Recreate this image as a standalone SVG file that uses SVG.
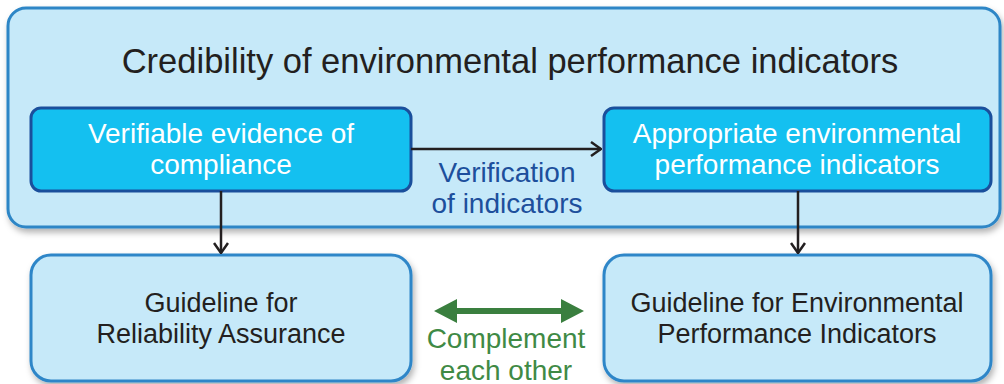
<svg xmlns="http://www.w3.org/2000/svg" width="1004" height="384" viewBox="0 0 1004 384">
  <style>
    text { font-family: "Liberation Sans", Arial, sans-serif; text-anchor: middle; }
    .container { fill: #c6e9f9; stroke: #2d86c6; stroke-width: 3; }
    .inner { fill: #14c0f0; stroke: #1a4f9c; stroke-width: 3; }
    .guide { fill: #c6e9f9; stroke: #2e86c8; stroke-width: 3; }
    .title { font-size: 34.5px; fill: #231f20; }
    .white { font-size: 28px; fill: #ffffff; }
    .dark { font-size: 27px; fill: #231f20; }
    .blue { font-size: 28px; fill: #1d4f9c; }
    .green { font-size: 28px; fill: #3f8a45; }
    .conn { stroke: #231f20; stroke-width: 2.5; fill: none; }
  </style>
  <defs>
    <filter id="shadow" x="-5%" y="-10%" width="110%" height="130%">
      <feDropShadow dx="2" dy="4" stdDeviation="3" flood-color="#000" flood-opacity="0.3"/>
    </filter>
    <marker id="chevron" viewBox="0 0 12 16" refX="11" refY="8" markerWidth="12" markerHeight="16" markerUnits="userSpaceOnUse" orient="auto">
      <polyline points="1,1 11,8 1,15" fill="none" stroke="#231f20" stroke-width="2.5"/>
    </marker>
  </defs>

  <!-- outer frame -->
  <g id="credibility">
    <rect class="container" x="8" y="8" width="992" height="219" rx="18" filter="url(#shadow)"/>
    <text class="title" x="510" y="73">Credibility of environmental performance indicators</text>
  </g>

  <g id="evidence">
    <rect class="inner" x="31" y="108" width="380" height="83" rx="10"/>
    <text class="white" x="221" y="143">Verifiable evidence of</text>
    <text class="white" x="221" y="174">compliance</text>
  </g>

  <g id="indicators">
    <rect class="inner" x="604" y="108" width="387" height="83" rx="10"/>
    <text class="white" x="797" y="143">Appropriate environmental</text>
    <text class="white" x="797" y="174">performance indicators</text>
  </g>

  <g id="reliability-guideline">
    <rect class="guide" x="31" y="255" width="380" height="126" rx="20" filter="url(#shadow)"/>
    <text class="dark" x="221" y="312">Guideline for</text>
    <text class="dark" x="221" y="343">Reliability Assurance</text>
  </g>

  <g id="indicator-guideline">
    <rect class="guide" x="604" y="255" width="387" height="126" rx="20" filter="url(#shadow)"/>
    <text class="dark" x="797" y="312">Guideline for Environmental</text>
    <text class="dark" x="797" y="343">Performance Indicators</text>
  </g>

  <g id="connectors">
    <line class="conn" x1="411" y1="149" x2="601" y2="149" marker-end="url(#chevron)"/>
    <text class="blue" x="507" y="182">Verification</text>
    <text class="blue" x="507" y="213">of indicators</text>

    <line class="conn" x1="221" y1="191" x2="221" y2="253" marker-end="url(#chevron)"/>
    <line class="conn" x1="798" y1="191" x2="798" y2="253" marker-end="url(#chevron)"/>

    <polygon fill="#3a7f3f" points="434,311 457,299 457,308 561,308 561,299 584,311 561,323 561,314 457,314 457,323"/>
    <text class="green" x="506" y="348">Complement</text>
    <text class="green" x="506" y="380">each other</text>
  </g>
</svg>
